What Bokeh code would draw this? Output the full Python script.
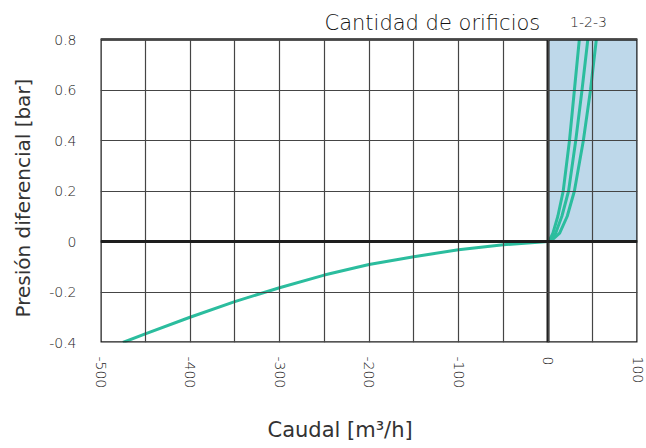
import math
from bokeh.plotting import figure
from bokeh.models import Range1d, FixedTicker, SingleIntervalTicker, Span, Title
from bokeh.core.properties import value
from bokeh.embed import file_html
from bokeh.resources import INLINE

# ---- data ----
neg_q = [-475, -450, -400, -350, -300, -250, -200, -150, -100, -50, 0]
neg_p = [-0.40, -0.366, -0.300, -0.238, -0.183, -0.133, -0.091, -0.060, -0.033, -0.013, 0.0]

pos_p = [0, 0.007, 0.033, 0.1, 0.2, 0.4, 0.6, 0.8]
q_1 = [0, 2, 5.5, 11, 17, 24, 29.5, 35]
q_2 = [0, 3, 8.5, 15.5, 23, 31, 38, 44.5]
q_3 = [0, 5, 13, 21.5, 29.5, 39.5, 47.5, 54]

x_ticks = [-500, -400, -300, -200, -100, 0, 100]
x_tick_labels = ["-500", "-400", "-300", "-200", "-100", "0", "100"]
y_ticks = [0.8, 0.6, 0.4, 0.2, 0, -0.2, -0.4]
y_tick_labels = ["0.8", "0.6", "0.4", "0.2", "0", "-0.2", "-0.4"]

Q_MIN, Q_MAX = -500, 100
P_MIN, P_MAX = -0.4, 0.8
region_q = (0, 100)
region_p = (0, 0.8)

title_text = "Cantidad de orificios"
series_text = "1-2-3"
x_title = "Caudal [m³/h]"
y_title = "Presión diferencial [bar]"

FONT = "DejaVu Sans"
LIGHT = "DejaVu Sans Light"
TEAL = "#2bbd9e"
GRID = "#454545"
DARK = "#1e1e1e"

# frame: box 537 x 303 px, extended upwards to hold the heading
FRAME_W, BOX_H, HEAD_H = 537, 303, 39
px_per_p = BOX_H / (P_MAX - P_MIN)
y_top = P_MAX + HEAD_H / px_per_p
px_per_q = FRAME_W / (Q_MAX - Q_MIN)

p = figure(width=646, height=448, output_backend="svg", toolbar_location=None,
           x_range=Range1d(Q_MIN, Q_MAX), y_range=Range1d(P_MIN, y_top),
           frame_width=FRAME_W, frame_height=BOX_H + HEAD_H)
p.min_border_left = 100
p.min_border_right = 9
p.min_border_top = 0
p.min_border_bottom = 106
p.outline_line_color = None
p.background_fill_color = "white"
p.border_fill_color = "white"

# shaded region
p.quad(left=region_q[0], right=region_q[1], bottom=region_p[0], top=region_p[1],
       fill_color="#bed8ea", line_color=None, level="underlay")

# grids (limited to the box)
p.xgrid.ticker = SingleIntervalTicker(interval=50)
p.ygrid.ticker = SingleIntervalTicker(interval=0.2)
p.xgrid.cross_bounds = (P_MIN, P_MAX)
p.ygrid.bounds = (P_MIN, P_MAX)
for g in (p.xgrid, p.ygrid):
    g.grid_line_color = GRID
    g.grid_line_width = 1.2
    g.level = "glyph"

# curves
p.line(neg_q, neg_p, line_color=TEAL, line_width=3)
for q in (q_1, q_2, q_3):
    p.line(q, pos_p, line_color=TEAL, line_width=3)

# box outline and zero axes
p.quad(left=Q_MIN, right=Q_MAX, bottom=P_MIN, top=P_MAX, fill_color=None,
       line_color=DARK, line_width=2.5)
p.segment(x0=0, y0=P_MIN, x1=0, y1=P_MAX, line_color=DARK, line_width=3)
p.add_layout(Span(location=0, dimension="width", line_color=DARK, line_width=3))

# heading texts
head_y = P_MAX + 17 / px_per_p
p.text(x=[Q_MIN + 224 / px_per_q], y=[head_y], text=[title_text],
       text_font=value(LIGHT), text_font_size="21px", text_color="#111111",
       text_align="left", text_baseline="alphabetic")
p.text(x=[Q_MIN + 488 / px_per_q], y=[head_y + 0.5 / px_per_p], text=[series_text],
       text_font=value(LIGHT), text_font_size="14px", text_color="#222222",
       text_align="center", text_baseline="alphabetic")

# axes
p.xaxis.ticker = FixedTicker(ticks=x_ticks)
p.xaxis.major_label_overrides = dict(zip(x_ticks, x_tick_labels))
p.xaxis.major_label_orientation = -math.pi / 2
p.yaxis.ticker = FixedTicker(ticks=y_ticks)
p.yaxis.major_label_overrides = dict(zip(y_ticks, y_tick_labels))
for ax in (p.xaxis, p.yaxis):
    ax.axis_line_color = None
    ax.major_tick_line_color = None
    ax.minor_tick_line_color = None
    ax.major_label_text_font = LIGHT
    ax.major_label_text_font_size = "14px"
    ax.major_label_text_color = "#222222"
p.yaxis.major_label_standoff = 18
p.xaxis.major_label_standoff = 8

p.add_layout(Title(text=y_title, align="left", offset=25, vertical_align="top",
                   standoff=19, text_font=FONT, text_font_size="20px",
                   text_font_style="normal", text_color="#333333"), "left")
p.add_layout(Title(text=x_title, align="left", offset=167, vertical_align="bottom",
                   standoff=49, text_font=FONT, text_font_size="21px",
                   text_font_style="normal", text_color="#333333"), "below")

open("out.html", "w").write(file_html(p, INLINE))
